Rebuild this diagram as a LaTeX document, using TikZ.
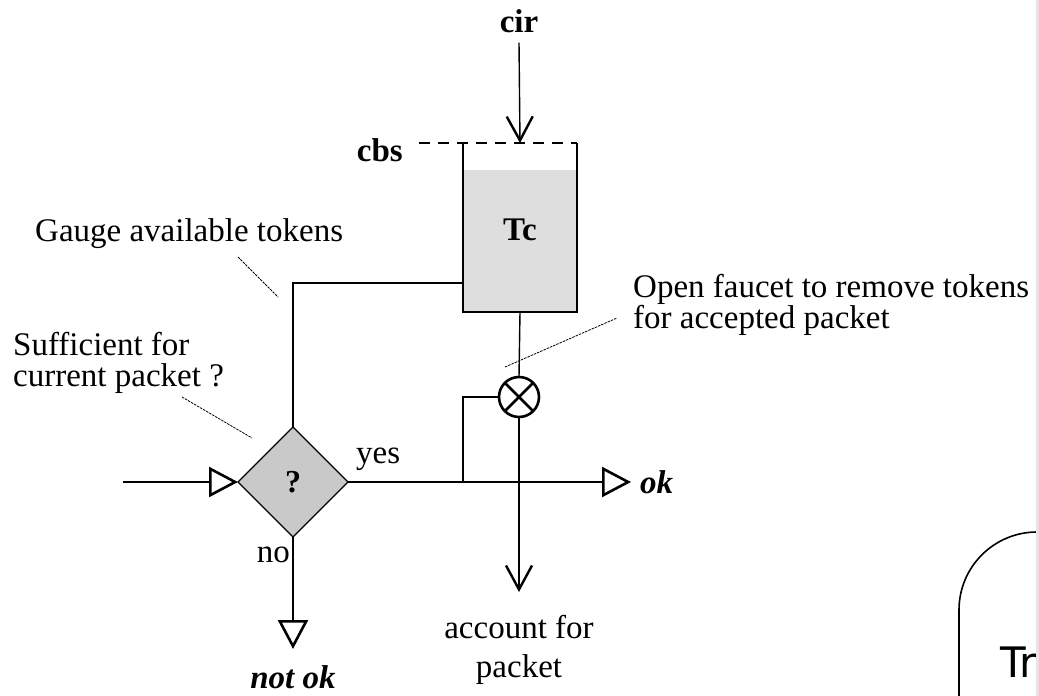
\documentclass[tikz,border=0pt]{standalone}
\usepackage{fontspec}
\setmainfont{Liberation Serif}
\newfontfamily\handfont{DejaVu Sans}
\usetikzlibrary{shapes.geometric,arrows.meta,calc}

\begin{document}
\begin{tikzpicture}[x=1pt,y=-1pt,
  wire/.style={line width=1.4pt},
  vee/.style={wire,-{Straight Barb[length=24pt,width=26pt,line width=2.4pt]}},
  tri/.style={wire,-{Triangle[length=29pt,width=30pt,line width=2.6pt,fill=white]}},
  leader/.style={line width=0.8pt,dash pattern=on 2.5pt off 1pt},
  txt/.style={inner sep=0pt,font=\fontsize{33}{27}\selectfont},
  bold/.style={inner sep=0pt,font=\fontsize{33}{27}\selectfont\bfseries},
  bolditalic/.style={inner sep=0pt,font=\fontsize{33}{27}\selectfont\bfseries\itshape},
  decision/.style={diamond,draw,line width=1.2pt,fill=black!21,minimum width=110pt,
    minimum height=110pt,inner sep=0pt,outer sep=0pt,font=\fontsize{32}{27}\selectfont\bfseries},
  tank/.style={rectangle,minimum width=114pt,minimum height=169pt,inner sep=0pt,outer sep=0pt},
  faucet/.style={circle,draw,line width=2.6pt,minimum size=40pt,inner sep=0pt,outer sep=0pt},
]
\useasboundingbox (0,0) rectangle (1039,696);
\fill[white] (0,0) rectangle (1039,696);
\begin{scope}
\clip (0,0) rectangle (1039,696);

% token bucket
\node[tank] (tank) at (520,227.5) {};
\fill[black!13] ($(tank.north west)+(0,27)$) rectangle (tank.south east);
\draw[line width=2pt] (tank.north west) -- (tank.south west) -- (tank.south east) -- (tank.north east);
\node[bold,anchor=base] (tc) at (520,240) {Tc};

% refill rate and bucket depth
\node[bold,anchor=base] (cir) at (519,32) {cir};
\node[bold,anchor=base east] (cbs) at (403,161) {cbs};
\draw[wire,dash pattern=on 11pt off 8pt] ([xshift=16pt]cbs.east |- tank.north) -- (tank.north east);
\draw[vee] ([yshift=-10pt]cir.south) -- (tank.north);

% decision
\node[decision] (q) at (293,482) {?};
\coordinate (src) at (123,482);
\coordinate (okend) at (631,482);
\coordinate (nok) at (293,649);
\coordinate (br) at (463,482);
\draw[tri] (src) -- (q.west);
\draw[tri] (q.east) -- (okend);
\draw[tri] (q.south) -- (nok);
\draw[wire] ($(tank.south west)+(0,-29)$) -| (q.north);

% faucet
\node[faucet] (f) at (519,397) {};
\draw[line width=2.6pt] (f.north west) -- (f.south east) (f.north east) -- (f.south west);
\coordinate (acct) at (519,592);
\draw[wire] (tank.south) -- (f.north);
\draw[vee] (f.south) -- (acct);
\draw[wire] (br) |- (f.west);

% labels
\node[txt,anchor=base west] (yes) at (356,463) {yes};
\node[txt,anchor=base east] (no) at (290,562) {no};
\node[bolditalic,anchor=base west] (ok) at (640,493) {ok};
\node[bolditalic,anchor=base] (notok) at (293,688) {not ok};
\node[txt,anchor=base] (acc1) at (519,638) {account for};
\node[txt,anchor=base] (acc2) at (519,677) {packet};

% annotations
\node[txt,anchor=base west] (gauge) at (35,241) {Gauge available tokens};
\node[txt,anchor=base west] (suff) at (13,355)
  {\begin{tabular}[t]{@{}l@{}}Sufficient for\\current packet ?\end{tabular}};
\node[txt,anchor=base west] (open) at (633,297)
  {\begin{tabular}[t]{@{}l@{}}Open faucet to remove tokens\\for accepted packet\end{tabular}};
\coordinate (g1) at (238,257); \coordinate (g2) at (278,297);
\coordinate (s1) at (182,397); \coordinate (s2) at (252,438);
\coordinate (o1) at (505,367); \coordinate (o2) at (617,318);
\draw[leader] (g1) -- (g2);
\draw[leader] (s1) -- (s2);
\draw[leader] (o1) -- (o2);

% rounded callout box
\draw[line width=1.6pt,rounded corners=78pt] (959,720) -- (959,532) -- (1060,532);
\node[inner sep=0pt,anchor=base west,font=\fontsize{42}{42}\selectfont\handfont] (tr) at (1000,677) {Tr};
\fill[black!10] (1036,0) rectangle (1039,696);
\end{scope}
\end{tikzpicture}
\end{document}
